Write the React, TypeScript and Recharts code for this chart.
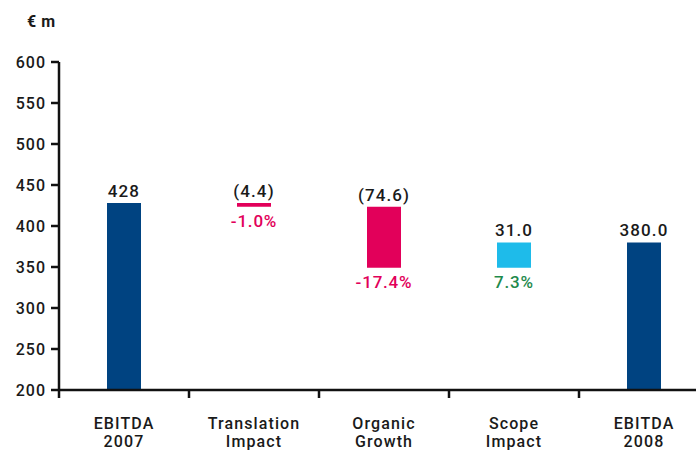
import { Bar, BarChart, Cell, LabelList, XAxis, YAxis } from "recharts";

const categories = ["EBITDA\n2007", "Translation\nImpact", "Organic\nGrowth", "Scope\nImpact", "EBITDA\n2008"];
const amounts = [428, -4.4, -74.6, 31.0, 380.0];
const isTotal = [true, false, false, false, true];
const valueLabels = ["428", "(4.4)", "(74.6)", "31.0", "380.0"];
const pctLabels = ["", "-1.0%", "-17.4%", "7.3%", ""];
const barColors = ["#004381", "#E2005A", "#E2005A", "#1EBBEA", "#004381"];
const pctColors = ["", "#E2005A", "#E2005A", "#1F8A4C", ""];
const yTicks = [200, 250, 300, 350, 400, 450, 500, 550, 600];

const Y_MIN = 200;
const INK = "#1a1a1a";
const FONT = "Roboto, 'DejaVu Sans', sans-serif";

let running = 0;
const data = categories.map((name, i) => {
  let range: [number, number];
  if (isTotal[i]) {
    range = [Y_MIN, amounts[i]];
    running = amounts[i];
  } else {
    const next = running + amounts[i];
    range = [Math.min(running, next), Math.max(running, next)];
    running = next;
  }
  return { name, range, value: valueLabels[i], pct: pctLabels[i], idx: i };
});

function CategoryTick(props: any) {
  const { x, y, payload } = props;
  const off = payload.offset ?? 65;
  const lines = String(payload.value).split("\n");
  return (
    <g>
      <line x1={x - off} x2={x - off} y1={y} y2={y + 8} stroke="#111" strokeWidth={2.5} />
      {lines.map((l, i) => (
        <text key={i} x={x} y={y + 39 + i * 18} textAnchor="middle" fontSize={16} fontWeight={500} fill={INK} fontFamily={FONT} letterSpacing={1.1}>
          {l}
        </text>
      ))}
    </g>
  );
}

function BarLabels(props: any) {
  const { x, y, width, height, index } = props;
  const top = Math.min(y, y + height);
  const bottom = Math.max(y, y + height);
  const cx = x + width / 2;
  return (
    <g fontFamily={FONT} fontSize={17} fontWeight={500}>
      <text x={cx} y={top - 6} textAnchor="middle" fill={INK} letterSpacing={1.1}>
        {valueLabels[index]}
      </text>
      {pctLabels[index] && (
        <text x={cx} y={bottom + 20} textAnchor="middle" fill={pctColors[index]} letterSpacing={0.8}>
          {pctLabels[index]}
        </text>
      )}
    </g>
  );
}

export default function App() {
  return (
    <div style={{ position: "fixed", left: 0, top: 0, width: 696, height: 452, overflow: "hidden", background: "#fff" }}>
      <div style={{ position: "absolute", left: 27, top: 12, fontFamily: FONT, fontWeight: 700, fontSize: 16, color: INK, letterSpacing: 0.5 }}>€ m</div>
      <BarChart width={720} height={452} data={data} margin={{ top: 62, right: 11, left: 0, bottom: 0 }} barSize={34}>
        <XAxis
          dataKey="name"
          height={62}
          interval={0}
          tick={<CategoryTick />}
          tickLine={false}
          tickSize={0}
          tickMargin={0}
          axisLine={{ stroke: "#111", strokeWidth: 2.5 }}
        />
        <YAxis
          width={59}
          domain={[200, 600]}
          ticks={yTicks}
          allowDataOverflow
          interval={0}
          tickSize={8}
          tickMargin={5}
          tickLine={{ stroke: "#111", strokeWidth: 2.5 }}
          axisLine={{ stroke: "#111", strokeWidth: 2.5 }}
          tick={{ fontSize: 16, fontWeight: 500, fill: INK, fontFamily: FONT, letterSpacing: 1 }}
        />
        <Bar dataKey="range" isAnimationActive={false}>
          {data.map((d, i) => (
            <Cell key={i} fill={barColors[i]} />
          ))}
          <LabelList dataKey="value" content={<BarLabels />} />
        </Bar>
      </BarChart>
    </div>
  );
}
